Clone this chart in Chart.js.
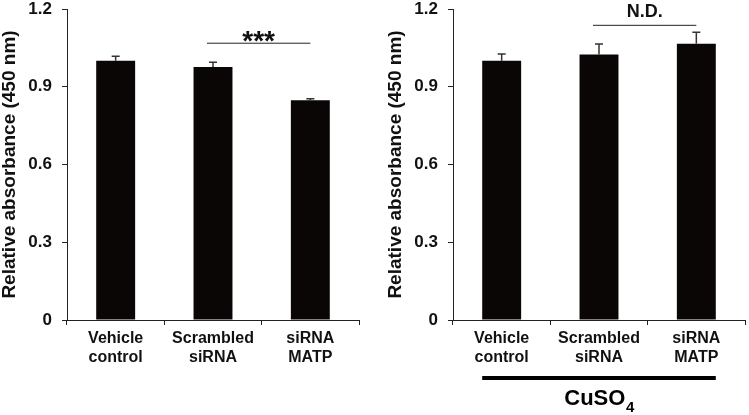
<!DOCTYPE html>
<html>
<head>
<meta charset="utf-8">
<script src="https://cdn.jsdelivr.net/npm/chart.js@4.4.1/dist/chart.umd.min.js"></script>
<style>
  body { margin: 0; background: #fff; }
  #wrap { position: relative; width: 749px; height: 415px; }
  .panel { position: absolute; top: 0; }
</style>
</head>
<body>
<div id="wrap">
  <div class="panel" style="left:0px"><canvas id="chartLeft" width="362" height="415"></canvas></div>
  <div class="panel" style="left:386px"><canvas id="chartRight" width="362" height="415"></canvas></div>
</div>
<script>
// data
const categories = [["Vehicle", "control"], ["Scrambled", "siRNA"], ["siRNA", "MATP"]];
const yTicks = [0, 0.3, 0.6, 0.9, 1.2];

const meansLeft = [1.0, 0.976, 0.848];
const errLeft = [0.018, 0.019, 0.006];

const meansRight = [1.0, 1.024, 1.066];
const errRight = [0.026, 0.041, 0.044];

// significance brackets: [from category, to category, y value, label]
const sigLeft = [1, 2, 1.068, "***"];
const sigRight = [1, 2, 1.137, "N.D."];

const treatmentLabel = "CuSO";
const treatmentSub = "4";

const FONT = "'Liberation Sans', Arial, sans-serif";
const AXIS = "#222";

// upward error bars
const errorBars = {
  id: "errorBars",
  afterDatasetsDraw(chart) {
    let ctx = chart.ctx;
    let yScale = chart.scales.y;
    let errs = chart.options.plugins.errorBars.errs;
    let means = chart.data.datasets[0].data;
    let bars = chart.getDatasetMeta(0).data;
    ctx.save();
    ctx.strokeStyle = "#333";
    ctx.lineWidth = 1.5;
    for (let i = 0; i < bars.length; i++) {
      let x = bars[i].x;
      let top = yScale.getPixelForValue(means[i] + errs[i]);
      ctx.beginPath();
      ctx.moveTo(x, bars[i].y);
      ctx.lineTo(x, top);
      ctx.moveTo(x - 4, top);
      ctx.lineTo(x + 4, top);
      ctx.stroke();
    }
    ctx.restore();
  }
};

// bracket line + label, and the CuSO4 bar under the right panel
const annotations = {
  id: "annotations",
  afterDraw(chart) {
    let opts = chart.options.plugins.annotations;
    let ctx = chart.ctx;
    let xScale = chart.scales.x;
    let yScale = chart.scales.y;
    let sig = opts.sig;
    let x1 = xScale.getPixelForValue(sig[0]) - 6;
    let x2 = xScale.getPixelForValue(sig[1]);
    let y = yScale.getPixelForValue(sig[2]);
    ctx.save();
    ctx.strokeStyle = AXIS;
    ctx.lineWidth = 1;
    ctx.beginPath();
    ctx.moveTo(x1, y);
    ctx.lineTo(x2, y);
    ctx.stroke();
    ctx.fillStyle = "#111";
    ctx.textAlign = "center";
    ctx.textBaseline = "alphabetic";
    if (sig[3] === "***") {
      ctx.font = "bold 28px " + FONT;
      ctx.fillText(sig[3], (x1 + x2) / 2, y + 6.5);
    } else {
      ctx.font = "bold 18px " + FONT;
      ctx.fillText(sig[3], (x1 + x2) / 2, y - 8.5);
    }

    if (opts.treatment) {
      let bars = chart.getDatasetMeta(0).data;
      let left = bars[0].x - bars[0].width / 2;
      let right = bars[bars.length - 1].x + bars[bars.length - 1].width / 2;
      ctx.fillStyle = "#000";
      ctx.fillRect(left, 376, right - left, 4);
      ctx.font = "bold 22px " + FONT;
      let w1 = ctx.measureText(treatmentLabel).width;
      ctx.font = "bold 15px " + FONT;
      let w2 = ctx.measureText(treatmentSub).width;
      let start = (left + right) / 2 - (w1 + w2) / 2;
      ctx.textAlign = "left";
      ctx.font = "bold 22px " + FONT;
      ctx.fillText(treatmentLabel, start, 405);
      ctx.font = "bold 15px " + FONT;
      ctx.fillText(treatmentSub, start + w1 + 0.5, 412);
    }
    ctx.restore();
  }
};

function makeChart(id, means, errs, sig, treatment) {
  let ctx = document.getElementById(id).getContext("2d");
  return new Chart(ctx, {
    type: "bar",
    data: {
      labels: categories,
      datasets: [{
        data: means,
        backgroundColor: "#0a0606",
        borderWidth: 0,
        categoryPercentage: 1,
        barPercentage: 0.4
      }]
    },
    options: {
      responsive: false,
      animation: false,
      layout: { autoPadding: false, padding: { left: 0, top: 9, right: 3, bottom: 0 } },
      plugins: {
        legend: { display: false },
        tooltip: { enabled: false },
        errorBars: { errs: errs },
        annotations: { sig: sig, treatment: treatment }
      },
      scales: {
        x: {
          afterFit: (s) => { s.height = 95; s.paddingLeft = 0; s.paddingRight = 0; },
          grid: { display: true, drawOnChartArea: false, offset: true, tickLength: 5, color: AXIS },
          border: { display: true, color: AXIS, width: 1 },
          ticks: {
            color: "#111",
            padding: 4,
            maxRotation: 0,
            font: { family: FONT, size: 16, weight: "bold", lineHeight: 1.2 }
          }
        },
        y: {
          min: 0,
          max: 1.2,
          afterFit: (s) => { s.width = 67; s.paddingTop = 0; s.paddingBottom = 0; },
          afterBuildTicks: (s) => { s.ticks = yTicks.map(v => ({ value: v })); },
          grid: { display: true, drawOnChartArea: false, tickLength: 5, color: AXIS },
          border: { display: true, color: AXIS, width: 1 },
          ticks: {
            color: "#111",
            padding: 10,
            font: { family: FONT, size: 17, weight: "bold", lineHeight: 1 },
            callback: (v) => v === 0 ? "0" : v.toFixed(1)
          },
          title: {
            display: true,
            text: "Relative absorbance (450 nm)",
            color: "#111",
            padding: 0,
            font: { family: FONT, size: 19, weight: "bold", lineHeight: 1 }
          }
        }
      }
    },
    plugins: [errorBars, annotations]
  });
}

makeChart("chartLeft", meansLeft, errLeft, sigLeft, false);
makeChart("chartRight", meansRight, errRight, sigRight, true);
</script>
</body>
</html>
